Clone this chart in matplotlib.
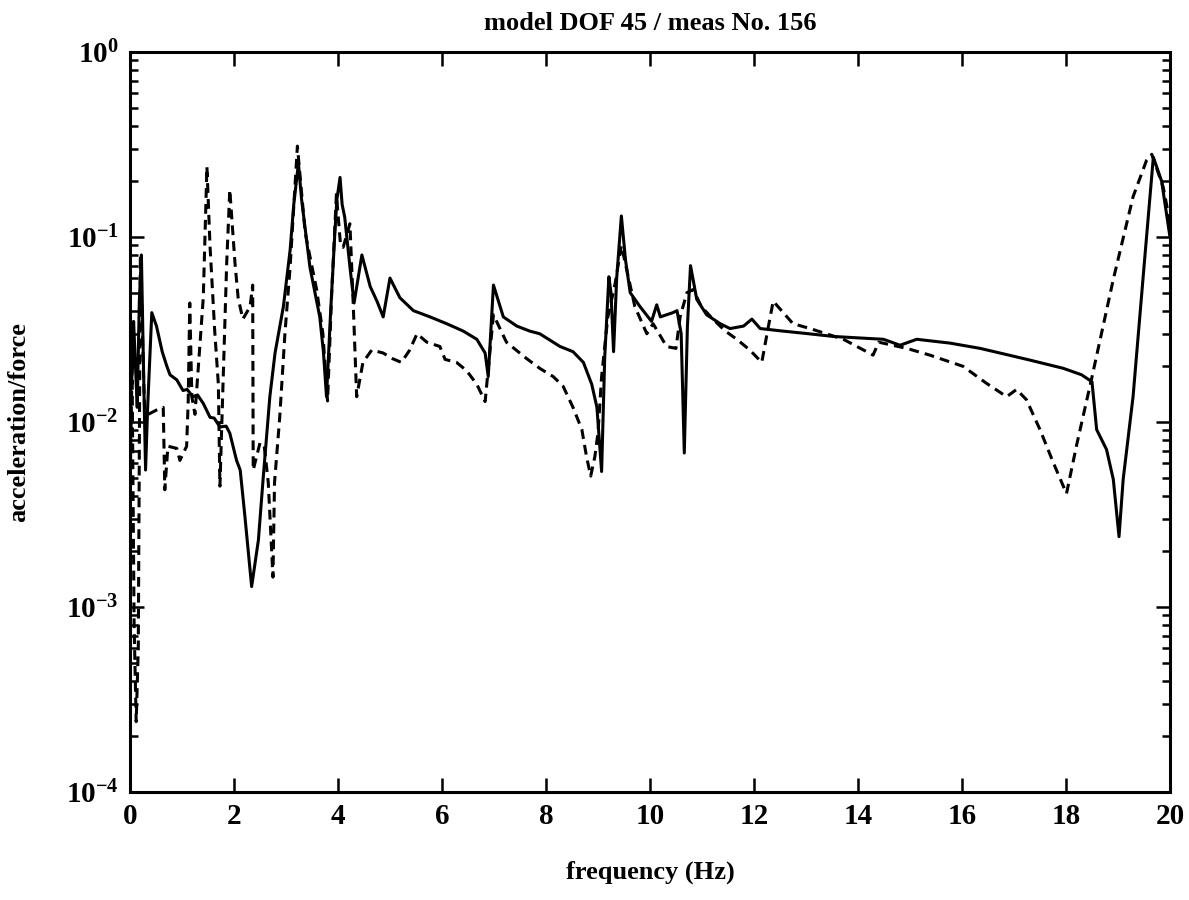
import numpy as np
import matplotlib
matplotlib.use('Agg')
import matplotlib.pyplot as plt
from matplotlib.ticker import LogLocator, FixedLocator, FuncFormatter, NullFormatter

plt.rcParams['font.family'] = ['Liberation Serif', 'DejaVu Serif']
plt.rcParams['mathtext.fontset'] = 'custom'
plt.rcParams['mathtext.rm'] = 'Liberation Serif'
plt.rcParams['mathtext.bf'] = 'Liberation Serif:bold'

# measured FRF (solid)
freq_meas = [0.0, 0.04, 0.07, 0.10, 0.14, 0.18, 0.22, 0.26, 0.30, 0.34, 0.42, 0.51, 0.62,
             0.71, 0.77, 0.90, 1.02, 1.10, 1.21, 1.30, 1.41, 1.54, 1.62, 1.73, 1.85, 1.92,
             2.05, 2.12, 2.21, 2.34, 2.47, 2.56, 2.69, 2.79, 2.95, 3.08, 3.15, 3.24, 3.30,
             3.46, 3.65, 3.72, 3.78, 3.86, 3.94, 3.98, 4.04, 4.08, 4.13, 4.23, 4.31, 4.46,
             4.62, 4.75, 4.87, 5.00, 5.19, 5.45, 5.77, 6.09, 6.41, 6.67, 6.83, 6.89, 6.99,
             7.18, 7.44, 7.69, 7.88, 8.27, 8.52, 8.72, 8.88, 8.98, 9.07, 9.13, 9.21, 9.25,
             9.30, 9.36, 9.45, 9.53, 9.62, 9.81, 10.03, 10.13, 10.20, 10.44, 10.52, 10.60,
             10.66, 10.72, 10.78, 10.90, 11.09, 11.35, 11.54, 11.80, 11.96, 12.12, 12.56,
             13.05, 13.53, 14.00, 14.49, 14.81, 15.13, 15.77, 16.35, 16.90, 17.31, 17.95,
             18.30, 18.50, 18.59, 18.78, 18.91, 19.02, 19.10, 19.29, 19.48, 19.68, 19.84, 20.0]
amp_meas = [0.03, 0.018, 0.035, 0.022, 0.012, 0.045, 0.08, 0.02, 0.0055, 0.012, 0.039, 0.033,
            0.024, 0.020, 0.018, 0.0169, 0.0148, 0.0150, 0.0137, 0.0140, 0.0126, 0.0106,
            0.0105, 0.0094, 0.0095, 0.0087, 0.0062, 0.0055, 0.0031, 0.00129, 0.0023, 0.0049,
            0.0137, 0.0236, 0.042, 0.085, 0.15, 0.25, 0.16, 0.069, 0.037, 0.024, 0.0137,
            0.04, 0.105, 0.16, 0.21, 0.15, 0.128, 0.069, 0.044, 0.080, 0.054, 0.045, 0.037,
            0.060, 0.047, 0.040, 0.037, 0.034, 0.031, 0.028, 0.0236, 0.0176, 0.055, 0.037,
            0.033, 0.031, 0.030, 0.0256, 0.024, 0.021, 0.016, 0.012, 0.0054, 0.0224, 0.061,
            0.05, 0.024, 0.06, 0.13, 0.075, 0.050, 0.042, 0.035, 0.043, 0.037, 0.039, 0.040,
            0.030, 0.0068, 0.033, 0.070, 0.046, 0.038, 0.034, 0.032, 0.033, 0.036, 0.032,
            0.031, 0.030, 0.029, 0.0285, 0.028, 0.026, 0.028, 0.0267, 0.025, 0.023, 0.0216,
            0.0195, 0.018, 0.0165, 0.0091, 0.0071, 0.0049, 0.0024, 0.0049, 0.0137, 0.059,
            0.27, 0.20, 0.10]

# model FRF (dashed)
freq_model = [0.0, 0.04, 0.08, 0.12, 0.16, 0.20, 0.24, 0.28, 0.35, 0.51, 0.64, 0.67, 0.73,
              0.90, 0.96, 1.09, 1.12, 1.15, 1.19, 1.25, 1.41, 1.48, 1.54, 1.63, 1.70, 1.73,
              1.80, 1.86, 1.92, 2.02, 2.08, 2.17, 2.31, 2.36, 2.37, 2.50, 2.58, 2.66, 2.75,
              2.78, 2.88, 2.98, 3.08, 3.22, 3.37, 3.59, 3.71, 3.80, 3.88, 3.97, 4.05, 4.10,
              4.23, 4.29, 4.36, 4.48, 4.65, 4.87, 5.05, 5.22, 5.38, 5.52, 5.71, 5.96, 6.06,
              6.28, 6.47, 6.67, 6.83, 6.99, 7.24, 7.63, 7.88, 8.14, 8.33, 8.52, 8.69, 8.78,
              8.86, 8.94, 9.00, 9.07, 9.19, 9.33, 9.45, 9.71, 9.94, 10.06, 10.32, 10.50,
              10.58, 10.71, 10.83, 10.99, 11.21, 11.45, 11.67, 11.92, 12.15, 12.27, 12.37,
              12.75, 13.08, 13.72, 14.29, 14.40, 14.94, 15.38, 16.02, 16.47, 16.86, 17.05,
              17.24, 17.50, 17.76, 18.01, 18.20, 18.49, 18.91, 19.29, 19.55, 19.65, 19.87, 20.0]
amp_model = [0.004, 0.02, 0.0008, 0.00024, 0.0006, 0.08, 0.03, 0.012, 0.011, 0.0116, 0.012,
             0.0043, 0.0074, 0.0072, 0.0062, 0.0074, 0.013, 0.044, 0.0137, 0.011, 0.047, 0.24,
             0.089, 0.031, 0.016, 0.0045, 0.02, 0.072, 0.18, 0.072, 0.047, 0.036, 0.042, 0.055,
             0.0055, 0.0077, 0.0075, 0.0047, 0.00145, 0.0047, 0.0106, 0.030, 0.069, 0.31,
             0.105, 0.052, 0.030, 0.013, 0.05, 0.17, 0.09, 0.088, 0.118, 0.046, 0.0137, 0.021,
             0.0245, 0.0236, 0.022, 0.021, 0.0245, 0.030, 0.027, 0.0256, 0.0218, 0.021, 0.019,
             0.016, 0.0129, 0.038, 0.027, 0.022, 0.0195, 0.0176, 0.0156, 0.012, 0.0091,
             0.0065, 0.0051, 0.0065, 0.0087, 0.0176, 0.037, 0.056, 0.09, 0.042, 0.030, 0.034,
             0.0256, 0.025, 0.037, 0.050, 0.052, 0.042, 0.036, 0.031, 0.028, 0.0245, 0.021,
             0.032, 0.045, 0.034, 0.032, 0.028, 0.023, 0.027, 0.025, 0.023, 0.020, 0.0162,
             0.0137, 0.015, 0.0132, 0.0091, 0.006, 0.0041, 0.0074, 0.017, 0.059, 0.165, 0.26,
             0.28, 0.186, 0.12]

x_ticks = [0, 2, 4, 6, 8, 10, 12, 14, 16, 18, 20]

fig = plt.figure(figsize=(11.89, 9.0), dpi=100)
ax = fig.add_axes([0.1093, 0.12, 0.8747, 0.8222])

ax.semilogy(freq_meas, amp_meas, color='black', lw=2.2, solid_joinstyle='round')
ax.semilogy(freq_model, amp_model, color='black', lw=2.2, linestyle=(0, (3.2, 2.0)))

ax.set_xlim(0, 20)
ax.set_ylim(1e-4, 1)
ax.xaxis.set_major_locator(FixedLocator(x_ticks))
ax.yaxis.set_major_locator(LogLocator(base=10, numticks=10))
ax.yaxis.set_minor_locator(LogLocator(base=10, subs=np.arange(2, 10), numticks=10))
ax.yaxis.set_minor_formatter(NullFormatter())
ax.yaxis.set_major_formatter(FuncFormatter(lambda v, p: r'$\mathbf{10^{%d}}$' % round(np.log10(v))))

ax.tick_params(which='both', direction='in', top=True, right=True, width=1.8)
ax.tick_params(which='major', length=10, labelsize=21, pad=8)
ax.tick_params(which='minor', length=6)
for lbl in ax.get_xticklabels():
    lbl.set_fontweight('bold')
for s in ax.spines.values():
    s.set_linewidth(2.2)

ax.set_title('model DOF 45 / meas No. 156', fontsize=19, fontweight='bold', pad=16)
ax.set_xlabel('frequency (Hz)', fontsize=19, fontweight='bold', labelpad=22)
ax.set_ylabel('acceleration/force', fontsize=19, fontweight='bold', labelpad=26)

fig.savefig('out.png', dpi=100)
